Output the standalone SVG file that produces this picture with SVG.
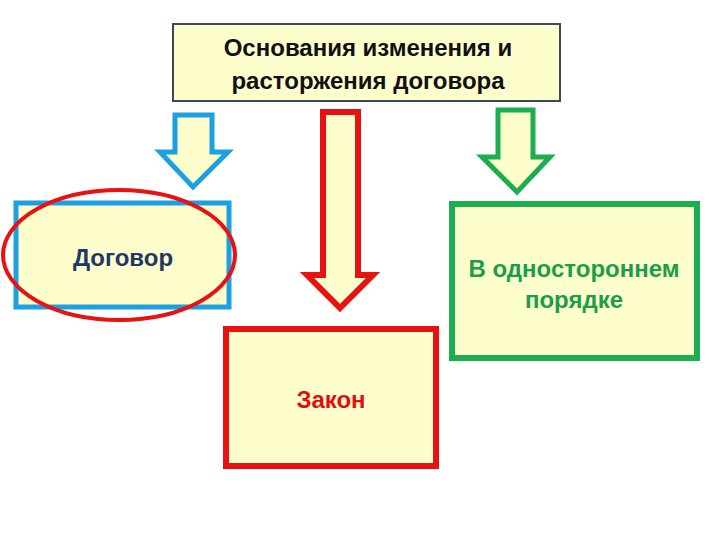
<svg xmlns="http://www.w3.org/2000/svg" width="720" height="540" viewBox="0 0 720 540">
<style>
.t{font-family:"Liberation Sans",Arial,sans-serif;font-weight:bold;font-size:24px;text-anchor:middle}
.fill{fill:#fefdcc}
</style>
<rect width="720" height="540" fill="#ffffff"/>
<g id="connectors" stroke-linejoin="miter">
<path id="arrow-blue" class="fill" d="M175,115 H212 V152 H228 L193,187 L160,152 H175 Z" stroke="#1ba1e2" stroke-width="5"/>
<path id="arrow-red" class="fill" d="M323,112 H358 V275 H373 L340,308 L307,275 H323 Z" stroke="#e81212" stroke-width="6"/>
<path id="arrow-green" class="fill" d="M498,110 H533 V157 H550 L517,192 L482,157 H498 Z" stroke="#1aae50" stroke-width="5"/>
</g>
<g id="node-top">
<rect class="fill" x="173" y="24" width="387" height="77" stroke="#3b4a5a" stroke-width="2"/>
<text class="t" x="368" y="56" fill="#111111">Основания изменения и</text>
<text class="t" x="368" y="89" fill="#111111">расторжения договора</text>
</g>
<g id="node-dogovor">
<rect class="fill" x="16" y="203" width="213" height="104" stroke="#1ba1e2" stroke-width="5"/>
<text class="t" x="123" y="266" fill="#1f3864">Договор</text>
</g>
<g id="node-ellipse">
<ellipse cx="119" cy="255" rx="116" ry="65" fill="none" stroke="#e81212" stroke-width="4"/>
</g>
<g id="node-unilateral">
<rect class="fill" x="452" y="204" width="245" height="154" stroke="#1aae50" stroke-width="6"/>
<text class="t" x="574" y="277" fill="#1a9e4a">В одностороннем</text>
<text class="t" x="574" y="308" fill="#1a9e4a">порядке</text>
</g>
<g id="node-zakon">
<rect class="fill" x="226" y="329" width="210" height="137" stroke="#e81212" stroke-width="6"/>
<text class="t" x="331" y="408" fill="#e01010">Закон</text>
</g>
</svg>
